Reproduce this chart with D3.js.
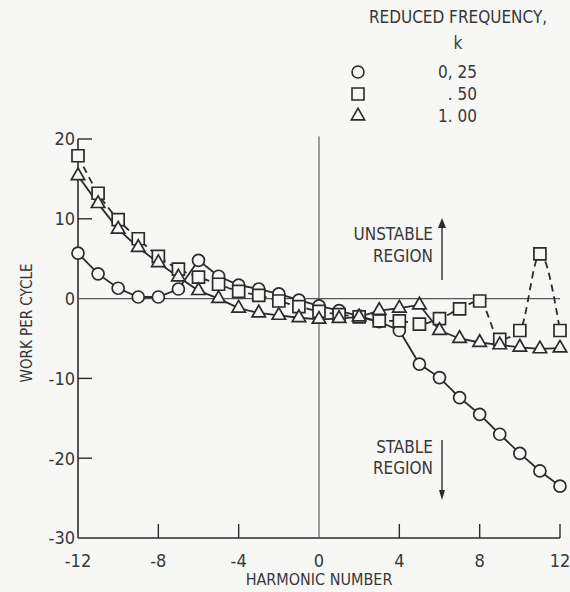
<!DOCTYPE html>
<html>
<head>
<meta charset="utf-8">
<script src="https://cdn.jsdelivr.net/npm/d3@7"></script>
<style>
  html, body { margin: 0; padding: 0; background: #f7f7f5; }
  svg text { font-family: "Liberation Sans Narrow", "DejaVu Sans Condensed", "Liberation Sans", sans-serif; fill: #383838; }
</style>
</head>
<body>
<div id="chart"></div>
<script>
// harmonic numbers -12 .. 12
var harmonics = [-12,-11,-10,-9,-8,-7,-6,-5,-4,-3,-2,-1,0,1,2,3,4,5,6,7,8,9,10,11,12];

// work per cycle, one array per reduced frequency
var workK025 = [5.7,3.1,1.3,0.2,0.2,1.2,4.8,2.8,1.7,1.2,0.6,-0.2,-0.9,-1.5,-2.2,-2.9,-4.0,-8.2,-9.9,-12.4,-14.5,-17.0,-19.4,-21.6,-23.5];
var workK050 = [17.9,13.2,9.9,7.5,5.3,3.7,2.7,1.8,0.9,0.4,-0.3,-1.0,-1.6,-2.0,-2.3,-2.8,-2.8,-3.2,-2.5,-1.3,-0.3,-5.1,-4.0,5.6,-4.0];
var workK100 = [15.4,11.9,8.7,6.4,4.5,2.7,1.0,0.0,-1.2,-1.8,-2.1,-2.4,-2.6,-2.5,-2.3,-1.5,-1.2,-0.8,-4.0,-5.0,-5.5,-5.8,-6.1,-6.3,-6.2];

var xTicks = [-12,-8,-4,0,4,8,12];
var yTicks = [-30,-20,-10,0,10,20];
var legendLabels = ["0, 25", ". 50", "1. 00"];

var width = 570, height = 592;

var svg = d3.select("#chart").append("svg")
    .attr("width", width)
    .attr("height", height);

svg.append("rect").attr("width", width).attr("height", height).attr("fill", "#f7f7f5");

var x = d3.scaleLinear().domain([-12, 12]).range([78, 560]);
var y = d3.scaleLinear().domain([-30, 20]).range([538, 139]);

var ink = "#2b2b2b";

// axes: left and bottom lines, ticks pointing inward
svg.append("line")
    .attr("x1", x(-12)).attr("x2", x(-12))
    .attr("y1", y(20)).attr("y2", y(-30))
    .attr("stroke", ink).attr("stroke-width", 1.6);
svg.append("line")
    .attr("x1", x(-12)).attr("x2", x(12))
    .attr("y1", y(-30)).attr("y2", y(-30))
    .attr("stroke", ink).attr("stroke-width", 1.6);

// zero reference lines
svg.append("line")
    .attr("x1", x(-12)).attr("x2", x(12))
    .attr("y1", y(0)).attr("y2", y(0))
    .attr("stroke", "#555").attr("stroke-width", 1.1);
svg.append("line")
    .attr("x1", x(0)).attr("x2", x(0))
    .attr("y1", y(20.3)).attr("y2", y(-30))
    .attr("stroke", "#555").attr("stroke-width", 1.1);

// y ticks
svg.selectAll(".ytick").data(yTicks.filter(function(d){ return d !== 0 && d !== -30; }))
  .enter().append("line")
    .attr("x1", x(-12)).attr("x2", x(-12) + 14)
    .attr("y1", d => y(d)).attr("y2", d => y(d))
    .attr("stroke", ink).attr("stroke-width", 1.4);

svg.selectAll(".ylab").data(yTicks)
  .enter().append("text")
    .attr("x", x(-12) - 3)
    .attr("y", d => y(d))
    .attr("dy", "0.36em")
    .attr("text-anchor", "end")
    .attr("font-size", 18)
    .text(d => d);

// x ticks
svg.selectAll(".xtick").data(xTicks.filter(function(d){ return d !== 0 && d !== -12; }))
  .enter().append("line")
    .attr("x1", d => x(d)).attr("x2", d => x(d))
    .attr("y1", y(-30)).attr("y2", y(-30) - 14)
    .attr("stroke", ink).attr("stroke-width", 1.4);

svg.selectAll(".xlab").data(xTicks)
  .enter().append("text")
    .attr("x", d => x(d))
    .attr("y", 561)
    .attr("dy", "0.36em")
    .attr("text-anchor", "middle")
    .attr("font-size", 18)
    .text(d => d);

// axis titles
svg.append("text")
    .attr("x", x(0))
    .attr("y", 579)
    .attr("dy", "0.36em")
    .attr("text-anchor", "middle")
    .attr("font-size", 16)
    .text("HARMONIC NUMBER");

svg.append("text")
    .attr("transform", "translate(27,323) rotate(-90)")
    .attr("dy", "0.36em")
    .attr("text-anchor", "middle")
    .attr("font-size", 15)
    .text("WORK PER CYCLE");

// series
var series = [
  { values: workK025, symbol: d3.symbolCircle, size: 113, dash: null },
  { values: workK050, symbol: d3.symbolSquare, size: 144, dash: "7,5" },
  { values: workK100, symbol: d3.symbolTriangle, size: 78, dash: null }
];

var line = d3.line()
    .x(d => x(d[0]))
    .y(d => y(d[1]));

series.forEach(function(s) {
  var pts = harmonics.map(function(h, i) { return [h, s.values[i]]; });
  svg.append("path")
      .datum(pts)
      .attr("d", s.dash ? line.curve(d3.curveMonotoneX) : line.curve(d3.curveLinear))
      .attr("fill", "none")
      .attr("stroke", ink)
      .attr("stroke-width", 1.8)
      .attr("stroke-dasharray", s.dash);
});

series.forEach(function(s) {
  var pts = harmonics.map(function(h, i) { return [h, s.values[i]]; });
  svg.append("g").selectAll("path")
      .data(pts)
      .enter().append("path")
      .attr("transform", d => "translate(" + x(d[0]) + "," + y(d[1]) + ")")
      .attr("d", d3.symbol().type(s.symbol).size(s.size))
      .attr("fill", "#f7f7f5")
      .attr("stroke", ink)
      .attr("stroke-width", 1.7);
});

// legend
svg.append("text")
    .attr("x", 458).attr("y", 17).attr("dy", "0.36em")
    .attr("text-anchor", "middle").attr("font-size", 17)
    .text("REDUCED FREQUENCY,");
svg.append("text")
    .attr("x", 458).attr("y", 43).attr("dy", "0.36em")
    .attr("text-anchor", "middle").attr("font-size", 17)
    .text("k");

var legendRows = [72, 94, 116];
series.forEach(function(s, i) {
  svg.append("path")
      .attr("transform", "translate(358," + legendRows[i] + ")")
      .attr("d", d3.symbol().type(s.symbol).size(s.size))
      .attr("fill", "#f7f7f5")
      .attr("stroke", ink)
      .attr("stroke-width", 1.6);
  svg.append("text")
      .attr("x", 477).attr("y", legendRows[i]).attr("dy", "0.36em")
      .attr("text-anchor", "end").attr("font-size", 17)
      .text(legendLabels[i]);
});

// region annotations
svg.append("text").attr("x", 433).attr("y", 234).attr("dy", "0.36em")
    .attr("text-anchor", "end").attr("font-size", 17).text("UNSTABLE");
svg.append("text").attr("x", 433).attr("y", 256).attr("dy", "0.36em")
    .attr("text-anchor", "end").attr("font-size", 17).text("REGION");
svg.append("line").attr("x1", 442).attr("x2", 442).attr("y1", 280).attr("y2", 224)
    .attr("stroke", ink).attr("stroke-width", 1.4);
svg.append("path").attr("d", "M438,228 L442,218 L446,228 Z").attr("fill", ink);

svg.append("text").attr("x", 433).attr("y", 447).attr("dy", "0.36em")
    .attr("text-anchor", "end").attr("font-size", 17).text("STABLE");
svg.append("text").attr("x", 433).attr("y", 468).attr("dy", "0.36em")
    .attr("text-anchor", "end").attr("font-size", 17).text("REGION");
svg.append("line").attr("x1", 442).attr("x2", 442).attr("y1", 440).attr("y2", 492)
    .attr("stroke", ink).attr("stroke-width", 1.4);
svg.append("path").attr("d", "M439,490 L442,500 L445,490 Z").attr("fill", ink);
</script>
</body>
</html>
